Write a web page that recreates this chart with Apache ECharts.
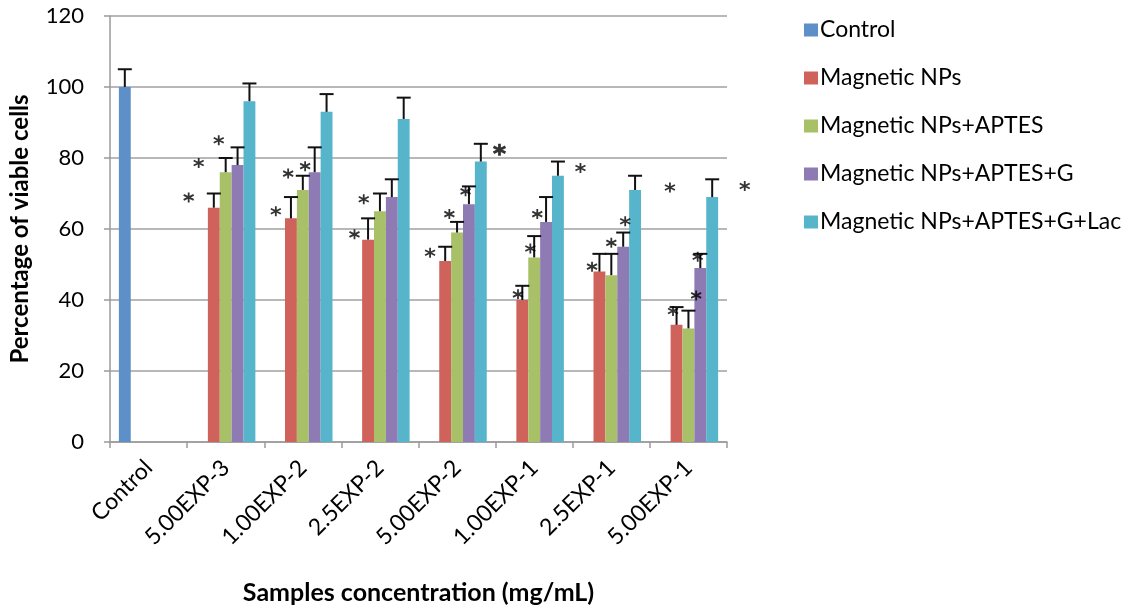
<!DOCTYPE html>
<html>
<head>
<meta charset="utf-8">
<script src="https://cdn.jsdelivr.net/npm/echarts@6/dist/echarts.min.js"></script>
<style>
  html, body { margin: 0; padding: 0; background: #ffffff; }
  #chart { width: 1134px; height: 610px; }
</style>
</head>
<body>
<div id="chart"></div>
<script>
// Sample concentrations (mg/mL) along the x axis
const categories = ['Control', '5.00EXP-3', '1.00EXP-2', '2.5EXP-2', '5.00EXP-2', '1.00EXP-1', '2.5EXP-1', '5.00EXP-1'];
const yTicks = [0, 20, 40, 60, 80, 100, 120];

const seriesNames = ['Control', 'Magnetic NPs', 'Magnetic NPs+APTES', 'Magnetic NPs+APTES+G', 'Magnetic NPs+APTES+G+Lac'];

// Percentage of viable cells (mean) and the positive standard deviation
const controlValues = [100, null, null, null, null, null, null, null];
const controlErr    = [5, null, null, null, null, null, null, null];
const npValues      = [null, 66, 63, 57, 51, 40, 48, 33];
const npErr         = [null, 4, 6, 6, 4, 4, 5, 5];
const aptesValues   = [null, 76, 71, 65, 59, 52, 47, 32];
const aptesErr      = [null, 4, 4, 5, 3, 6, 6, 5];
const gValues       = [null, 78, 76, 69, 67, 62, 55, 49];
const gErr          = [null, 5, 7, 5, 5, 7, 4, 4];
const lacValues     = [null, 96, 93, 91, 79, 75, 71, 69];
const lacErr        = [null, 5, 5, 6, 5, 4, 4, 5];

// Significance marks: position in category units (0..8) and value units
const starX = [1.02, 1.15, 1.41, 2.15, 2.31, 2.53, 3.17, 3.29, 4.15, 4.40, 4.61, 5.29, 5.45, 5.54, 6.10, 6.25, 6.50, 6.68, 7.26, 7.30, 7.60, 7.62, 8.23];
const starY = [68.9, 78.6, 85.0, 65.0, 75.6, 77.7, 58.5, 68.4, 53.3, 64.2, 70.6, 41.6, 54.5, 64.2, 77.2, 49.4, 56.1, 62.2, 71.7, 36.9, 41.3, 52.2, 72.1];
const boldStarX = [5.05];
const boldStarY = [82.3];

const colors = ['#5d90c8', '#cf625a', '#a8c169', '#8f7bb4', '#56b5cb'];
const allValues = [controlValues, npValues, aptesValues, gValues, lacValues];
const allErr = [controlErr, npErr, aptesErr, gErr, lacErr];

const FONT = 'Lato';
const CAT_GAP = 0.23;
const N_SERIES = seriesNames.length;

const asterisk = 'path://M0,-5L0,5M-4.33,-2.5L4.33,2.5M-4.33,2.5L4.33,-2.5';

function errorRenderer(seriesIdx) {
  return function (params, api) {
    const idx = api.value(0);
    const val = api.value(1);
    const err = api.value(2);
    const center = api.coord([idx, val]);
    const band = api.size([1, 0])[0];
    const bw = band * (1 - CAT_GAP) / N_SERIES;
    const cx = center[0] + (seriesIdx - (N_SERIES - 1) / 2) * bw;
    const yTop = api.coord([idx, val + err])[1];
    const yBase = center[1];
    const half = 7;
    const style = { stroke: '#111111', lineWidth: 2 };
    return {
      type: 'group',
      children: [
        { type: 'line', shape: { x1: cx, y1: yBase, x2: cx, y2: yTop }, style: style },
        { type: 'line', shape: { x1: cx - half, y1: yTop, x2: cx + half, y2: yTop }, style: style }
      ]
    };
  };
}

const series = [];
allValues.forEach(function (vals, i) {
  series.push({
    name: seriesNames[i],
    type: 'bar',
    data: vals.map(function (v) { return v == null ? '-' : v; }),
    itemStyle: { color: colors[i] },
    barGap: '0%',
    barCategoryGap: (CAT_GAP * 100) + '%',
    emphasis: { disabled: true },
    animation: false
  });
});
allValues.forEach(function (vals, i) {
  const d = [];
  vals.forEach(function (v, k) {
    if (v != null) d.push([k, v, allErr[i][k]]);
  });
  series.push({
    type: 'custom',
    renderItem: errorRenderer(i),
    data: d,
    encode: { x: 0, y: 1 },
    z: 5,
    silent: true,
    animation: false
  });
});
series.push({
  type: 'scatter',
  xAxisIndex: 1,
  data: starX.map(function (x, k) { return [x, starY[k]]; }),
  symbol: asterisk,
  symbolSize: 10,
  itemStyle: { color: 'rgba(0,0,0,0)', borderColor: '#000000', borderWidth: 1.8 },
  clip: false,
  silent: true,
  animation: false,
  z: 6
});
series.push({
  type: 'scatter',
  xAxisIndex: 1,
  data: boldStarX.map(function (x, k) { return [x, boldStarY[k]]; }),
  symbol: asterisk,
  symbolSize: 12,
  itemStyle: { color: 'rgba(0,0,0,0)', borderColor: '#000000', borderWidth: 2.8 },
  clip: false,
  silent: true,
  animation: false,
  z: 6
});

const chart = echarts.init(document.getElementById('chart'), null, { renderer: 'canvas' });
chart.setOption({
  backgroundColor: '#ffffff',
  animation: false,
  grid: { left: 107, right: 407, top: 16, bottom: 162, containLabel: false },
  legend: {
    orient: 'vertical',
    left: 799,
    top: 13,
    data: seriesNames,
    icon: 'rect',
    itemWidth: 14,
    itemHeight: 13,
    itemGap: 24,
    selectedMode: false,
    textStyle: { fontFamily: FONT, fontSize: 23, color: '#000000', lineHeight: 24, padding: [0, 0, 0, -3] }
  },
  xAxis: [{
    type: 'category',
    data: categories,
    name: 'Samples concentration (mg/mL)',
    nameLocation: 'middle',
    nameGap: 138,
    nameTextStyle: { fontFamily: FONT, fontSize: 25, fontWeight: 'bold', color: '#000000' },
    axisLine: { lineStyle: { color: '#9a9a9a', width: 1.5 } },
    axisTick: { show: true, length: 6, lineStyle: { color: '#9a9a9a', width: 1.5 } },
    axisLabel: { rotate: 45, margin: 22, fontFamily: FONT, fontSize: 23, color: '#000000' }
  }, {
    type: 'value',
    min: 0,
    max: 8,
    show: false
  }],
  yAxis: {
    type: 'value',
    min: yTicks[0],
    max: yTicks[yTicks.length - 1],
    interval: yTicks[1] - yTicks[0],
    name: 'Percentage of viable cells',
    nameLocation: 'middle',
    nameGap: 78,
    nameTextStyle: { fontFamily: FONT, fontSize: 24, fontWeight: 'bold', color: '#000000' },
    axisLine: { show: true, lineStyle: { color: '#9a9a9a', width: 1.5 } },
    axisTick: { show: true, length: 6, lineStyle: { color: '#9a9a9a', width: 1.5 } },
    splitLine: { lineStyle: { color: '#a0a0a0', width: 1.5 } },
    axisLabel: { margin: 26, fontFamily: FONT, fontSize: 22, color: '#000000' }
  },
  series: series
});
</script>
</body>
</html>
